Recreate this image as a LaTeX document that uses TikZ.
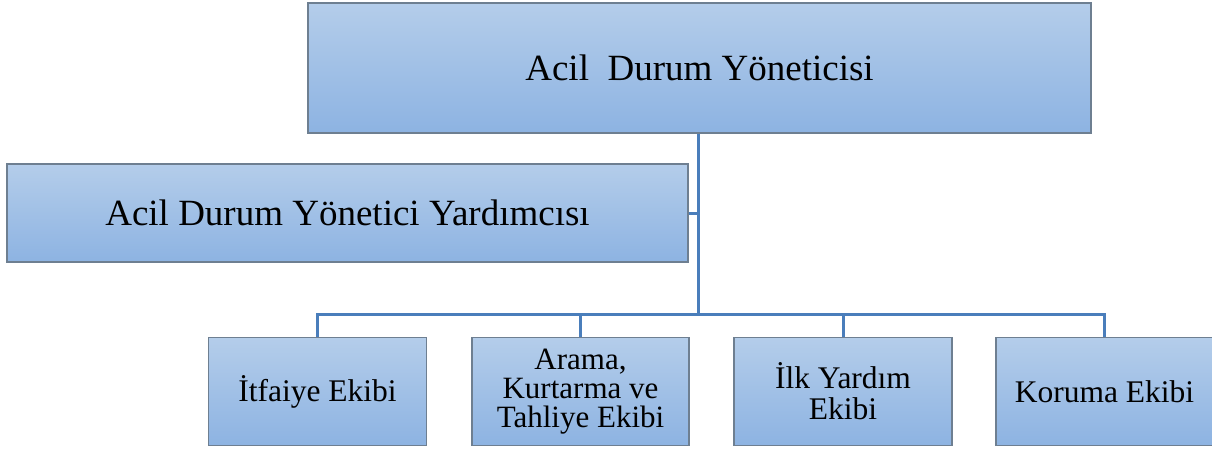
\documentclass[tikz,border=0pt]{standalone}
\usepackage{fontspec}
\setmainfont{Liberation Serif}
\definecolor{boxtop}{HTML}{B4CDEA}
\definecolor{boxbot}{HTML}{8DB3E2}
\definecolor{boxline}{HTML}{6E7F91}
\definecolor{conn}{HTML}{4A7EBB}
\begin{document}
\begin{tikzpicture}[x=1pt,y=-1pt,
  orgbox/.style={rectangle, draw=boxline, line width=1.3pt, top color=boxtop, bottom color=boxbot, inner sep=0pt, align=center},
  bigtext/.style={font=\fontsize{37}{40}\selectfont},
  smalltext/.style={font=\fontsize{31.5}{31}\selectfont},
  tighttext/.style={font=\fontsize{31}{29}\selectfont},
  link/.style={draw=conn, line width=3pt}]
\useasboundingbox (0,0) rectangle (1212,449);
\node[orgbox, bigtext, minimum width=783pt, minimum height=130pt] (top) at (699.5,68) {Acil\ \ Durum Yöneticisi};
\node[orgbox, bigtext, minimum width=681pt, minimum height=98pt] (yard) at (347.5,213) {Acil Durum Yönetici Yardımcısı};
\node[orgbox, smalltext, minimum width=218pt, minimum height=108pt] (b1) at (317.5,391.5) {İtfaiye Ekibi};
\node[orgbox, tighttext, minimum width=217pt, minimum height=108pt] (b2) at (580.5,391.5) {Arama,\\Kurtarma ve\\Tahliye Ekibi};
\node[orgbox, smalltext, minimum width=218pt, minimum height=108pt] (b3) at (843,391.5) {İlk Yardım\\Ekibi};
\node[orgbox, smalltext, minimum width=217pt, minimum height=108pt] (b4) at (1104.5,391.5) {Koruma Ekibi};
\coordinate (bus) at (698,314);
\draw[link] (top.south -| bus) -- (bus);
\draw[link] (yard.east) -- (yard.east -| bus);
\draw[link] (b1.north) |- (bus);
\draw[link] (b2.north) |- (bus);
\draw[link] (b3.north) |- (bus);
\draw[link] (b4.north) |- (bus);
\end{tikzpicture}
\end{document}
